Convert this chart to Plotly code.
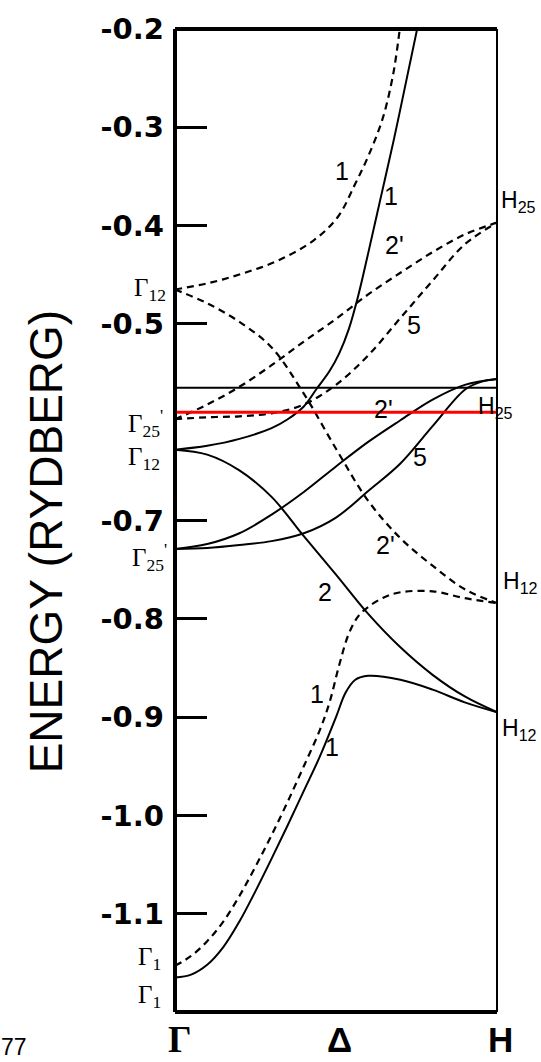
import plotly.graph_objects as go

# Energy bands (Rydberg) along Γ–Δ–H; k is the fraction of the way from Γ to H.

# solid bands
solid_1_low_k = [0, 0.05, 0.1, 0.15, 0.2, 0.25, 0.3, 0.35, 0.4, 0.45, 0.5, 0.53, 0.56, 0.6, 0.7, 0.8, 0.9, 1.0]
solid_1_low_e = [-1.165, -1.162, -1.152, -1.134, -1.108, -1.077, -1.044, -1.010, -0.975, -0.940, -0.900, -0.875,
                 -0.862, -0.858, -0.862, -0.872, -0.885, -0.895]

solid_2_k = [0, 0.1, 0.2, 0.3, 0.4, 0.5, 0.6, 0.7, 0.8, 0.9, 1.0]
solid_2_e = [-0.628, -0.633, -0.649, -0.676, -0.716, -0.755, -0.795, -0.829, -0.857, -0.879, -0.895]

solid_1_up_k = [0, 0.1, 0.2, 0.3, 0.35, 0.4, 0.44, 0.48, 0.51, 0.54, 0.57, 0.60, 0.64, 0.68, 0.72, 0.752]
solid_1_up_e = [-0.628, -0.624, -0.617, -0.606, -0.597, -0.584, -0.566, -0.548, -0.530, -0.505, -0.470, -0.428,
                -0.370, -0.312, -0.250, -0.200]

solid_2p_k = [0, 0.1, 0.2, 0.3, 0.4, 0.5, 0.6, 0.7, 0.8, 0.9, 1.0]
solid_2p_e = [-0.729, -0.724, -0.713, -0.694, -0.671, -0.645, -0.620, -0.598, -0.577, -0.562, -0.556]

solid_5_k = [0, 0.1, 0.2, 0.3, 0.4, 0.5, 0.6, 0.7, 0.8, 0.9, 0.95, 1.0]
solid_5_e = [-0.729, -0.728, -0.725, -0.721, -0.713, -0.697, -0.670, -0.642, -0.604, -0.567, -0.559, -0.556]

# dashed bands
dash_1_up_k = [0, 0.110, 0.217, 0.324, 0.431, 0.506, 0.559, 0.602, 0.645, 0.677, 0.698]
dash_1_up_e = [-0.465, -0.458, -0.448, -0.435, -0.415, -0.391, -0.358, -0.328, -0.291, -0.247, -0.200]

dash_2_k = [0, 0.1, 0.2, 0.3, 0.4, 0.5, 0.6, 0.7, 0.8, 0.9, 1.0]
dash_2_e = [-0.465, -0.479, -0.498, -0.524, -0.571, -0.627, -0.680, -0.718, -0.746, -0.770, -0.784]

dash_2p_k = [0, 0.1, 0.2, 0.3, 0.4, 0.5, 0.6, 0.7, 0.8, 0.9, 1.0]
dash_2p_e = [-0.597, -0.582, -0.564, -0.542, -0.518, -0.495, -0.470, -0.448, -0.427, -0.409, -0.397]

dash_5_k = [0, 0.1, 0.2, 0.3, 0.4, 0.5, 0.6, 0.7, 0.8, 0.9, 1.0]
dash_5_e = [-0.597, -0.595, -0.594, -0.591, -0.582, -0.562, -0.532, -0.494, -0.456, -0.419, -0.397]

dash_1_low_k = [0, 0.05, 0.1, 0.15, 0.2, 0.25, 0.3, 0.35, 0.4, 0.45, 0.48, 0.51, 0.54, 0.57, 0.6, 0.65, 0.7, 0.8,
                0.9, 1.0]
dash_1_low_e = [-1.153, -1.143, -1.128, -1.108, -1.082, -1.052, -1.020, -0.986, -0.950, -0.913, -0.885, -0.847,
                -0.815, -0.797, -0.788, -0.778, -0.773, -0.772, -0.779, -0.784]

# Fermi levels
fermi_black = -0.565
fermi_red = -0.590

# axis ticks
y_ticks = [-0.2, -0.3, -0.4, -0.5, -0.7, -0.8, -0.9, -1.0, -1.1]
y_tick_text = ["-0.2", "-0.3", "-0.4", "-0.5", "-0.7", "-0.8", "-0.9", "-1.0", "-1.1"]

# band index labels: (text, k, E)
band_labels = [
    ("1", 0.519, -0.344),
    ("1", 0.671, -0.370),
    ("2'", 0.683, -0.420),
    ("5", 0.742, -0.501),
    ("2'", 0.649, -0.587),
    ("5", 0.761, -0.635),
    ("2'", 0.655, -0.725),
    ("2", 0.466, -0.773),
    ("1", 0.441, -0.877),
    ("1", 0.488, -0.930),
]

# symmetry point labels at Γ (right aligned) and H (left aligned)
gamma_labels = [
    ("Γ<sub>12</sub>", -0.022, -0.465),
    ("Γ<sub>25</sub><sup>'</sup>", -0.030, -0.601),
    ("Γ<sub>12</sub>", -0.040, -0.637),
    ("Γ<sub>25</sub><sup>'</sup>", -0.018, -0.737),
    ("Γ<sub>1</sub>", -0.037, -1.146),
    ("Γ<sub>1</sub>", -0.037, -1.184),
]
h_labels = [
    ("H<sub>25</sub>", 1.006, -0.375),
    ("H<sub>25</sub>", 0.935, -0.585),
    ("H<sub>12</sub>", 1.012, -0.763),
    ("H<sub>12</sub>", 1.009, -0.913),
]

fig = go.Figure()


def add_band(k, e, dash=None, width=2.0):
    fig.add_trace(go.Scatter(
        x=k, y=e, mode="lines", hoverinfo="skip", showlegend=False,
        line=dict(color="black", width=width, dash=dash, shape="spline", smoothing=1.0),
    ))


for k, e in [(solid_1_low_k, solid_1_low_e), (solid_2_k, solid_2_e), (solid_1_up_k, solid_1_up_e),
             (solid_2p_k, solid_2p_e), (solid_5_k, solid_5_e)]:
    add_band(k, e, width=2.0)

for k, e in [(dash_1_up_k, dash_1_up_e), (dash_2_k, dash_2_e), (dash_2p_k, dash_2p_e),
             (dash_5_k, dash_5_e), (dash_1_low_k, dash_1_low_e)]:
    add_band(k, e, dash="7px,5px", width=2.2)

fig.add_trace(go.Scatter(x=[0, 1], y=[fermi_black, fermi_black], mode="lines", hoverinfo="skip",
                         showlegend=False, line=dict(color="black", width=2)))
fig.add_trace(go.Scatter(x=[0, 1], y=[fermi_red, fermi_red], mode="lines", hoverinfo="skip",
                         showlegend=False, line=dict(color="#ff0000", width=3)))

# x axis spans [0, 1], so paper x equals k and labels outside the frame stay visible
annotations = []
for text, k, e in band_labels:
    annotations.append(dict(x=k, y=e, xref="paper", yref="y", text=text, showarrow=False,
                            xanchor="center", yanchor="middle",
                            font=dict(family="Liberation Sans", size=25, color="black")))
for text, k, e in gamma_labels:
    annotations.append(dict(x=k, y=e, xref="paper", yref="y", text=text, showarrow=False,
                            xanchor="right", yanchor="middle",
                            font=dict(family="Liberation Serif", size=25, color="black")))
for text, k, e in h_labels:
    annotations.append(dict(x=k, y=e, xref="paper", yref="y", text=text, showarrow=False,
                            xanchor="left", yanchor="middle",
                            font=dict(family="Liberation Sans", size=23, color="black")))

# k-point names under the axis, axis title and page number
annotations += [
    dict(x=0.016, y=-0.028, xref="paper", yref="paper", text="<b>Γ</b>", showarrow=False,
         xanchor="center", yanchor="middle", font=dict(family="Liberation Serif", size=37, color="black")),
    dict(x=0.512, y=-0.028, xref="paper", yref="paper", text="<b>Δ</b>", showarrow=False,
         xanchor="center", yanchor="middle", font=dict(family="Liberation Sans", size=35, color="black")),
    dict(x=1.01, y=-0.028, xref="paper", yref="paper", text="<b>H</b>", showarrow=False,
         xanchor="center", yanchor="middle", font=dict(family="Liberation Sans", size=35, color="black")),
    dict(x=-0.40, y=0.479, xref="paper", yref="paper", text="ENERGY (RYDBERG)", textangle=-90,
         xanchor="center", yanchor="middle", showarrow=False,
         font=dict(family="Liberation Sans", size=46, color="black")),
    dict(x=-0.547, y=-0.036, xref="paper", yref="paper", text="77", xanchor="left", yanchor="middle",
         showarrow=False, font=dict(family="Liberation Sans", size=23, color="black")),
]

# frame: heavy left/top/bottom, light right edge
shapes = [
    dict(type="line", xref="paper", yref="paper", x0=0, x1=0, y0=0, y1=1, line=dict(color="black", width=4)),
    dict(type="line", xref="paper", yref="paper", x0=0, x1=1, y0=1, y1=1, line=dict(color="black", width=4)),
    dict(type="line", xref="paper", yref="paper", x0=0, x1=1, y0=0, y1=0, line=dict(color="black", width=4)),
    dict(type="line", xref="paper", yref="paper", x0=1, x1=1, y0=0, y1=1, line=dict(color="black", width=2)),
]

fig.update_layout(
    width=541, height=1062,
    margin=dict(l=175, r=44, t=20, b=50),
    paper_bgcolor="white", plot_bgcolor="white",
    showlegend=False,
    annotations=annotations,
    shapes=shapes,
    xaxis=dict(range=[0, 1], showgrid=False, zeroline=False, showline=False,
               showticklabels=False, ticks=""),
    yaxis=dict(range=[-1.2, -0.2], showgrid=False, zeroline=False, showline=False,
               tickmode="array", tickvals=y_ticks, ticktext=y_tick_text,
               ticks="inside", ticklen=32, tickwidth=3, tickcolor="black",
               ticklabelstandoff=10,
               tickfont=dict(family="DejaVu Sans", size=29, color="black", weight="bold")),
)

fig.write_html("out.html")
